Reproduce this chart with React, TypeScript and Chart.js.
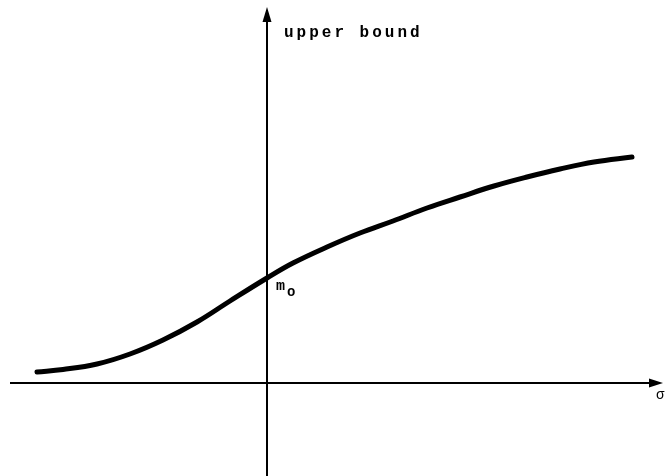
import React, { useEffect, useRef } from "react";
import { Chart, registerables } from "chart.js";

Chart.register(...registerables);

// Upper bound as a function of sigma (sketch-style curve)
const sigmaValues = [-2.3, -2.04, -1.7, -1.37, -1.04, -0.7, -0.37, 0, 0.26, 0.6, 0.93, 1.26, 1.6, 1.93, 2.27, 2.6, 2.93, 3.27, 3.65];
const upperBoundValues = [0.11, 0.135, 0.19, 0.29, 0.43, 0.61, 0.82, 1.05, 1.2, 1.36, 1.5, 1.62, 1.75, 1.86, 1.97, 2.06, 2.14, 2.21, 2.26];

// Axis extents (data units)
const xAxisFrom = -2.57;
const xAxisTo = 3.93;
const yAxisFrom = -0.93;
const yAxisTo = 3.73;

const yAxisLabel = "upper bound";
const xAxisLabel = "σ";
const interceptLabel = "m";
const interceptSub = "o";

const sketchText = {
  id: "sketchText",
  afterDatasetsDraw(chart: any) {
    const { ctx, scales } = chart;
    const ox = scales.x.getPixelForValue(0);
    const oy = scales.y.getPixelForValue(0);
    const xEnd = scales.x.getPixelForValue(xAxisTo);
    const yEnd = scales.y.getPixelForValue(yAxisTo);
    ctx.save();
    ctx.fillStyle = "#000";
    // arrow heads
    ctx.beginPath();
    ctx.moveTo(xEnd + 3, oy);
    ctx.lineTo(xEnd - 11, oy - 4.5);
    ctx.lineTo(xEnd - 11, oy + 4.5);
    ctx.closePath();
    ctx.fill();
    ctx.beginPath();
    ctx.moveTo(ox, yEnd - 3);
    ctx.lineTo(ox - 4.5, yEnd + 12);
    ctx.lineTo(ox + 4.5, yEnd + 12);
    ctx.closePath();
    ctx.fill();

    ctx.textBaseline = "alphabetic";
    ctx.textAlign = "left";
    ctx.font = "bold 16px 'Liberation Mono', monospace";
    (ctx as any).letterSpacing = "3px";
    ctx.fillText(yAxisLabel, ox + 17, yEnd + 27);
    (ctx as any).letterSpacing = "0px";
    const my = scales.y.getPixelForValue(upperBoundValues[sigmaValues.indexOf(0)]);
    ctx.font = "bold 15px 'Liberation Mono', monospace";
    ctx.fillText(interceptLabel, ox + 9, my + 12);
    ctx.font = "bold 14px 'Liberation Mono', monospace";
    ctx.fillText(interceptSub, ox + 20, my + 18);
    ctx.font = "14px 'Liberation Mono', monospace";
    ctx.fillText(xAxisLabel, xEnd - 4, oy + 16);
    ctx.restore();
  },
};

export default function App() {
  const ref = useRef<HTMLCanvasElement>(null);
  useEffect(() => {
    if (!ref.current) return;
    const chart = new Chart(ref.current, {
      type: "line",
      data: {
        datasets: [
          {
            data: [{ x: xAxisFrom, y: 0 }, { x: xAxisTo, y: 0 }],
            borderColor: "#000",
            borderWidth: 2,
            pointRadius: 0,
          },
          {
            data: [{ x: 0, y: yAxisFrom }, { x: 0, y: yAxisTo }],
            borderColor: "#000",
            borderWidth: 2,
            pointRadius: 0,
          },
          {
            data: sigmaValues.map((s, i) => ({ x: s, y: upperBoundValues[i] })),
            borderColor: "#000",
            borderWidth: 5,
            borderCapStyle: "round",
            pointRadius: 0,
            tension: 0.4,
          },
        ],
      },
      options: {
        responsive: false,
        animation: false,
        layout: { padding: 0 },
        plugins: { legend: { display: false }, tooltip: { enabled: false } },
        scales: {
          x: { type: "linear", min: -2.67, max: 4.05, display: false },
          y: { type: "linear", min: -0.93, max: 3.83, display: false },
        },
      },
      plugins: [sketchText],
    });
    return () => chart.destroy();
  }, []);
  return (
    <div style={{ position: "fixed", left: 0, top: 0, width: 672, height: 476, background: "#fff" }}>
      <canvas ref={ref} width={672} height={476} />
    </div>
  );
}
